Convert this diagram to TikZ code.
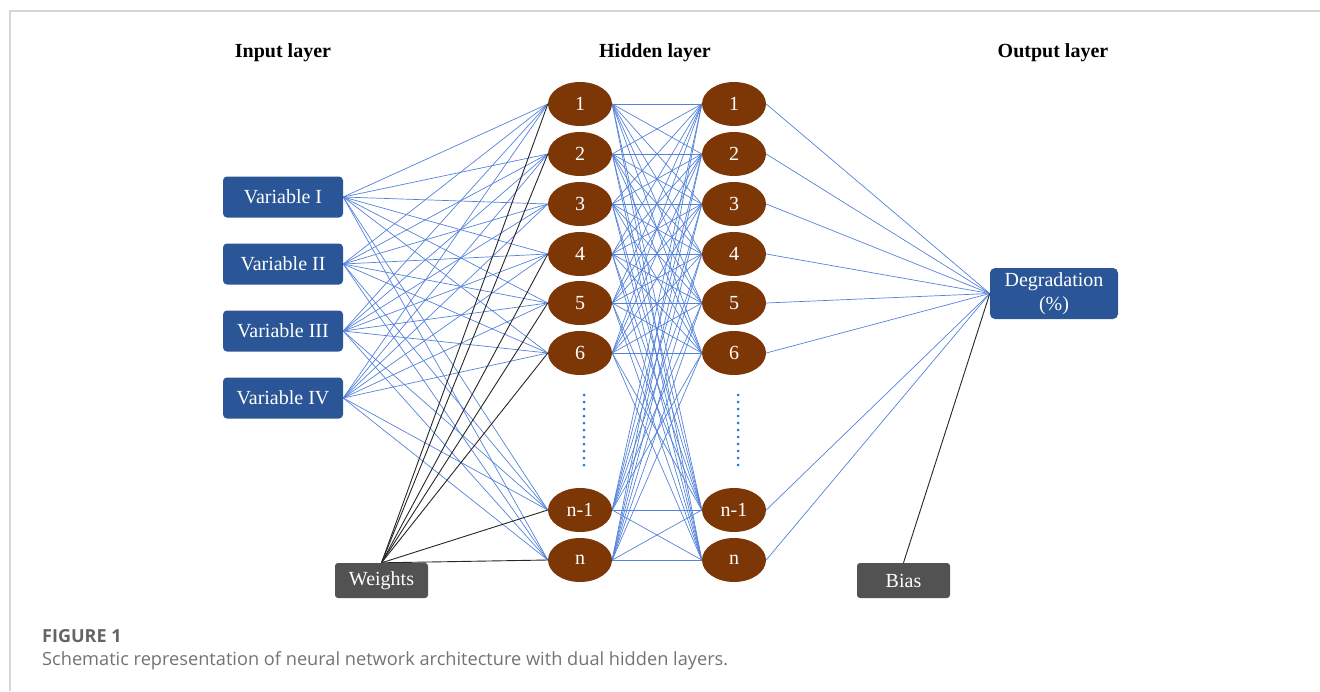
\documentclass[tikz,border=0pt]{standalone}
\usepackage{fontspec}
\setmainfont{Liberation Serif}
\newfontfamily\capfont{Open Sans}
\usetikzlibrary{shapes.geometric,backgrounds}
\definecolor{inblue}{RGB}{42,85,150}
\definecolor{nbrown}{RGB}{125,54,6}
\definecolor{wgray}{RGB}{82,82,82}
\definecolor{lblue}{RGB}{84,130,218}
\definecolor{dblue}{RGB}{36,116,208}
\definecolor{framegray}{RGB}{214,214,214}
\definecolor{capgray}{RGB}{100,100,100}
\definecolor{capgrayl}{RGB}{115,115,115}
\begin{document}
\begin{tikzpicture}[x=1pt,y=-1pt,
  lbl/.style={font=\fontsize{20}{24}\selectfont, text=white, inner sep=0pt},
  inbox/.style={lbl, fill=inblue, rounded corners=4pt, minimum width=120pt, minimum height=41pt},
  hnode/.style={lbl, ellipse, fill=nbrown, minimum width=64pt, minimum height=44pt},
  gbox/.style={lbl, fill=wgray, rounded corners=3pt, minimum width=93pt, minimum height=35pt},
  outbox/.style={lbl, fill=inblue, rounded corners=5pt, minimum width=128pt, minimum height=51pt, align=center},
  title/.style={font=\bfseries\fontsize{20}{24}\selectfont},
  wire/.style={lblue, line width=0.7pt},
  bwire/.style={black!85, line width=0.9pt},
  vdots/.style={dblue, line width=3pt, line cap=round, dash pattern=on 0pt off 7pt},
  framel/.style={framegray, line width=1.2pt},
  capa/.style={anchor=base west, inner sep=0pt, text=capgray, font=\capfont\bfseries\fontsize{18}{20}\selectfont},
  capb/.style={anchor=base west, inner sep=0pt, text=capgrayl, font=\capfont\fontsize{18.2}{20}\selectfont}
]
\useasboundingbox (0,0) rectangle (1320,691);
% frame
\coordinate (fr0) at (10,11);
\coordinate (fr1) at (1320,11);
\coordinate (fr2) at (10,691);
\draw[framel] (fr1) -- (fr0) -- (fr2);
% titles
\node[title] (t1) at (283,53) {Input layer};
\node[title] (t2) at (655,53) {Hidden layer};
\node[title] (t3) at (1053,53) {Output layer};
% inputs
\node[inbox] (v1) at (283,197) {Variable I};
\node[inbox] (v2) at (283,264) {Variable II};
\node[inbox] (v3) at (283,331) {Variable III};
\node[inbox] (v4) at (283,398) {Variable IV};
% hidden layers
\foreach \i/\y/\t in {1/104/1,2/154/2,3/204/3,4/254/4,5/303/5,6/353/6,7/510/n-1,8/560/n}{
  \node[hnode] (a\i) at (580,\y) {\t};
  \node[hnode] (b\i) at (734,\y) {\t};
}
% output, weights, bias
\node[outbox] (out) at (1054,293.5) {Degradation\\(\%)};
\node[gbox] (w) at (381.5,580.5) {Weights};
\node[gbox] (bias) at (903.5,580.5) {Bias};
% dots
\coordinate (d1s) at (584,395);
\coordinate (d1e) at (584,472);
\coordinate (d2s) at (738,395);
\coordinate (d2e) at (738,472);
\begin{pgfonlayer}{background}
\foreach \v in {1,...,4}{\foreach \i in {1,...,8}{\draw[wire] (v\v.east) -- (a\i.west);}}
\foreach \i in {1,...,8}{\foreach \j in {1,...,8}{\draw[wire] (a\i.east) -- (b\j.west);}}
\foreach \j in {1,...,8}{\draw[wire] (b\j.east) -- (out.west);}
\foreach \i in {1,2,4,5,6,7,8}{\draw[bwire] (w.north) -- (a\i.west);}
\draw[bwire] (bias.north) -- (out.west);
\draw[vdots] (d1s) -- (d1e);
\draw[vdots] (d2s) -- (d2e);
\end{pgfonlayer}
% caption
\node[capa] (c1) at (42,642) {FIGURE 1};
\node[capb] (c2) at (42,665) {Schematic representation of neural network architecture with dual hidden layers.};
\end{tikzpicture}
\end{document}
